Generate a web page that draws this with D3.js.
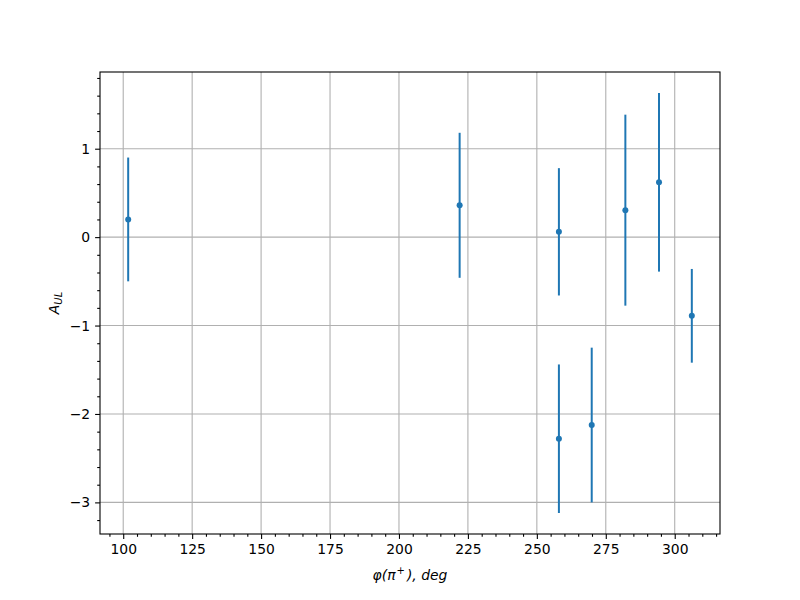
<!DOCTYPE html>
<html><head><meta charset="utf-8">
<script src="https://cdn.jsdelivr.net/npm/d3@7"></script>
<style>
body{margin:0;background:#fff;}
text{font-family:"DejaVu Sans",sans-serif;}
</style></head>
<body><div id="chart"></div>
<script>
const phi = [101.8, 222.0, 258.0, 258.0, 269.9, 282.1, 294.3, 306.2];
const aul = [0.20, 0.36, 0.06, -2.28, -2.125, 0.305, 0.62, -0.89];
const err = [0.70, 0.82, 0.72, 0.84, 0.875, 1.08, 1.01, 0.53];
const xTicks = [100, 125, 150, 175, 200, 225, 250, 275, 300];
const yTicks = [-3, -2, -1, 0, 1];

const W = 800, H = 600;
const m = {left: 100, right: 720, top: 72, bottom: 534};
const svg = d3.select("#chart").append("svg").attr("width", W).attr("height", H);

const xmin = d3.min(phi), xmax = d3.max(phi);
const ymin = d3.min(aul.map((v,i)=>v-err[i])), ymax = d3.max(aul.map((v,i)=>v+err[i]));
const xp = (xmax - xmin) * 0.05, yp = (ymax - ymin) * 0.05;
const x = d3.scaleLinear().domain([xmin - xp, xmax + xp]).range([m.left, m.right]);
const y = d3.scaleLinear().domain([ymin - yp, ymax + yp]).range([m.bottom, m.top]);

// grid
const g = svg.append("g");
g.selectAll(".gx").data(xTicks).enter().append("line")
  .attr("x1", d=>x(d)).attr("x2", d=>x(d)).attr("y1", m.top).attr("y2", m.bottom)
  .attr("stroke", "#b0b0b0").attr("stroke-width", 1.1);
g.selectAll(".gy").data(yTicks).enter().append("line")
  .attr("y1", d=>y(d)).attr("y2", d=>y(d)).attr("x1", m.left).attr("x2", m.right)
  .attr("stroke", "#b0b0b0").attr("stroke-width", 1.1);

// axes
const fmt = d => d < 0 ? "\u2212" + Math.abs(d) : String(d);
svg.append("g").attr("transform", `translate(0,${m.bottom})`)
  .call(d3.axisBottom(x).tickValues(xTicks).tickFormat(fmt).tickSizeOuter(0).tickSize(4.9).tickPadding(4.9));
const xMinor = d3.range(95, 316, 5).filter(v => !xTicks.includes(v));
svg.append("g").attr("transform", `translate(0,${m.bottom})`)
  .call(d3.axisBottom(x).tickValues(xMinor).tickFormat("").tickSizeOuter(0).tickSize(2.8))
  .call(s => s.select(".domain").remove());
svg.append("g").attr("transform", `translate(${m.left},0)`)
  .call(d3.axisLeft(y).tickValues(yTicks).tickFormat(fmt).tickSizeOuter(0).tickSize(4.9).tickPadding(4.9));
const yMinor = d3.range(-16, 10).map(v => v * 0.2).filter(v => Math.abs(v - Math.round(v)) > 1e-6);
svg.append("g").attr("transform", `translate(${m.left},0)`)
  .call(d3.axisLeft(y).tickValues(yMinor).tickFormat("").tickSizeOuter(0).tickSize(2.8))
  .call(s => s.select(".domain").remove());
svg.selectAll(".tick line").attr("stroke", "#000").attr("stroke-width", 1.1);
svg.selectAll(".tick text").attr("font-size", "13.9px").attr("fill", "#000")
  .attr("font-family", "DejaVu Sans, sans-serif");
svg.selectAll(".domain").remove();

// frame
svg.append("rect").attr("x", m.left).attr("y", m.top)
  .attr("width", m.right - m.left).attr("height", m.bottom - m.top)
  .attr("fill", "none").attr("stroke", "#000").attr("stroke-width", 1.1);

// error bars and points
const idx = d3.range(phi.length);
svg.selectAll(".eb").data(idx).enter().append("line")
  .attr("x1", i=>x(phi[i])).attr("x2", i=>x(phi[i]))
  .attr("y1", i=>y(aul[i] - err[i])).attr("y2", i=>y(aul[i] + err[i]))
  .attr("stroke", "#1f77b4").attr("stroke-width", 2);
svg.selectAll(".pt").data(idx).enter().append("circle")
  .attr("cx", i=>x(phi[i])).attr("cy", i=>y(aul[i])).attr("r", 3)
  .attr("fill", "#1f77b4");

// labels
const xl = svg.append("text").attr("x", (m.left + m.right)/2).attr("y", 580)
  .attr("text-anchor", "middle").attr("font-size", "13.9px").attr("font-style", "italic");
xl.append("tspan").text("\u03c6(\u03c0");
xl.append("tspan").attr("dy", -6).attr("dx", 1).attr("font-size", "10px").attr("font-style", "normal").text("+");
xl.append("tspan").attr("dy", 6).attr("dx", 2).text("), deg");

const yl = svg.append("text").attr("transform", `translate(59,${(m.top + m.bottom)/2}) rotate(-90)`)
  .attr("text-anchor", "middle").attr("font-size", "13.9px").attr("font-style", "italic");
yl.append("tspan").text("A");
yl.append("tspan").attr("dy", 3).attr("font-size", "10px").text("UL");
</script>
</body></html>
